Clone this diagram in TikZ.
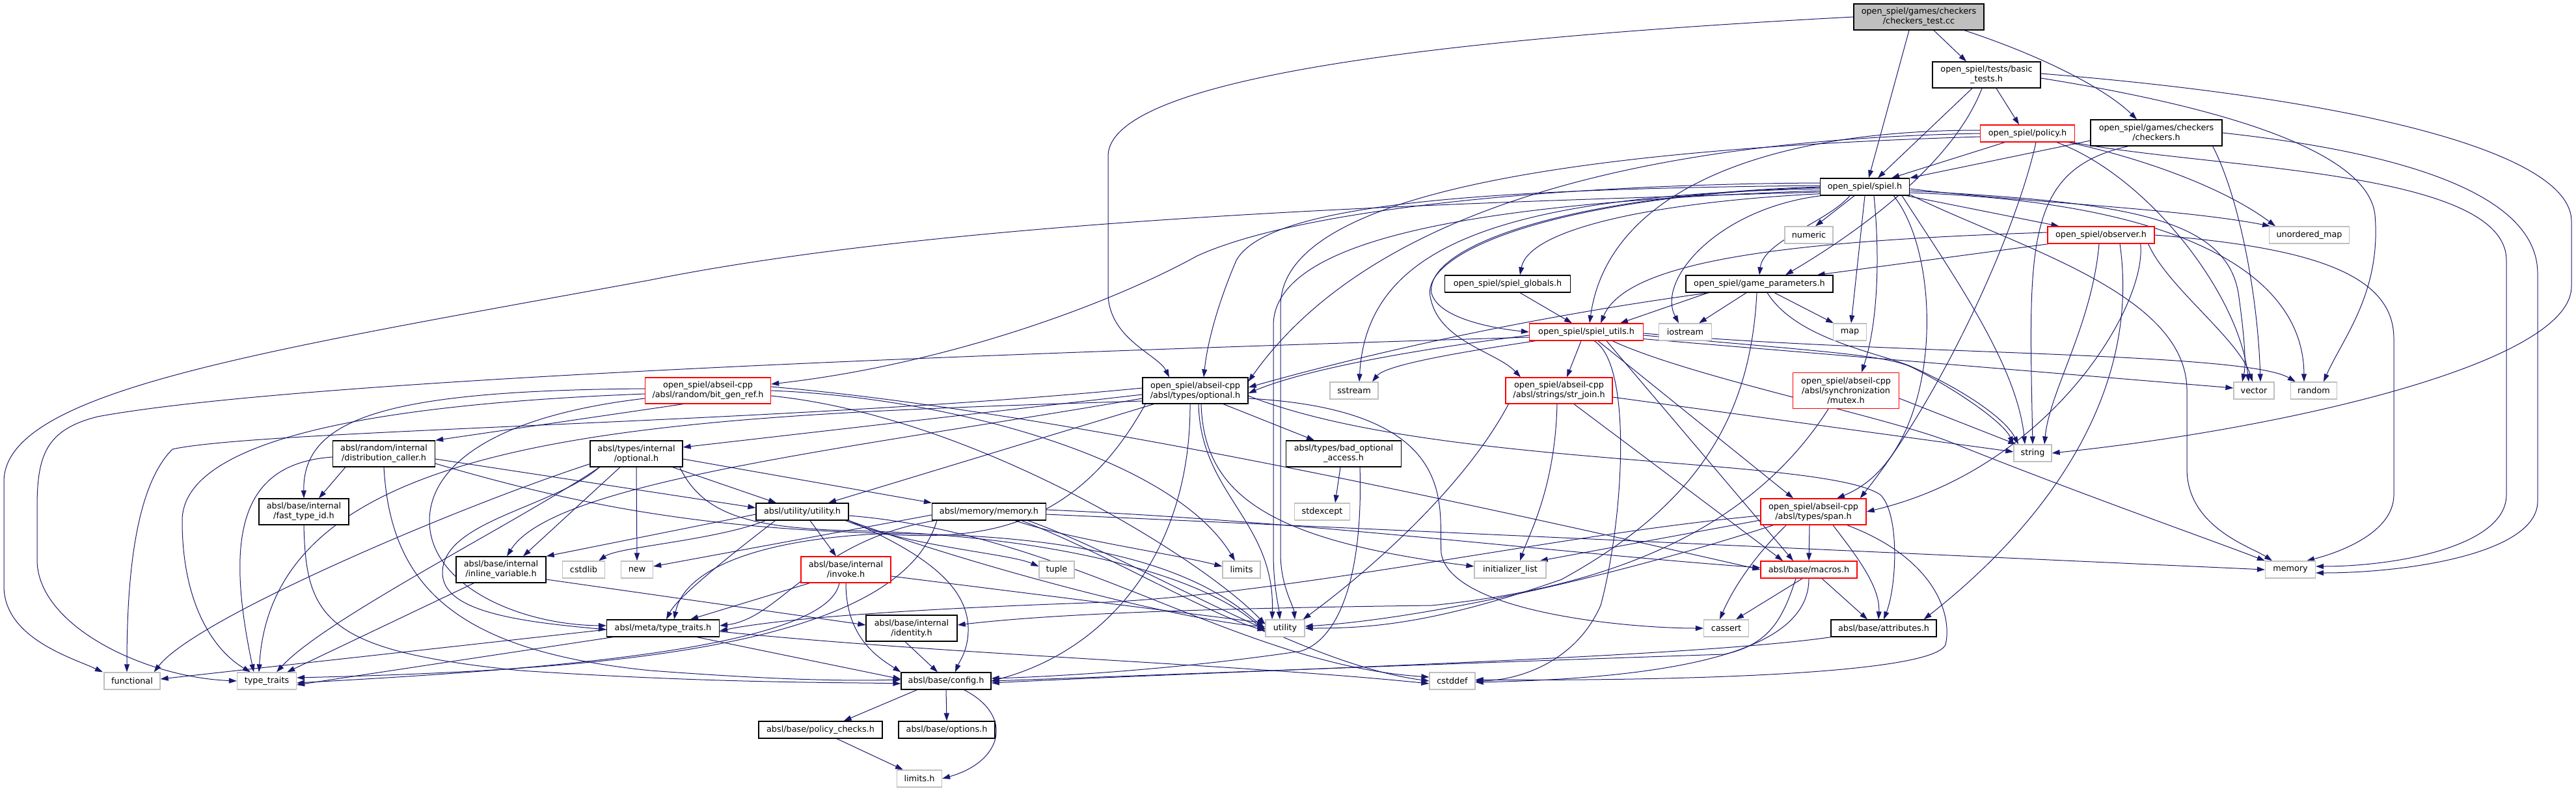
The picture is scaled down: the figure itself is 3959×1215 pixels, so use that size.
\documentclass[tikz,border=0pt]{standalone}
\usepackage{fontspec}
\setmainfont{DejaVu Sans}
\usetikzlibrary{arrows.meta,calc,backgrounds}
\definecolor{edgec}{HTML}{191970}
\definecolor{rootfill}{HTML}{BFBFBF}
\definecolor{sysc}{HTML}{BFBFBF}
\definecolor{redc}{HTML}{FF0000}
\begin{document}
\begin{tikzpicture}[x=1pt,y=-1pt,
  nd/.style={draw=black, line width=1.3pt, fill=white, inner sep=0pt, align=center,
     font=\fontsize{12.8}{15}\selectfont, minimum height=26pt},
  two/.style={minimum height=40pt},
  three/.style={minimum height=55pt},
  rd/.style={nd, draw=redc},
  sy/.style={nd, draw=sysc},
  e/.style={draw=edgec, line width=1pt, -{Triangle[length=12pt,width=8pt]}},
]
\useasboundingbox (0,0) rectangle (3959,1215);
% ---------------- nodes
\node[nd, two, fill=rootfill, minimum width=200pt] (root) at (2949,26) {open\_spiel/games/checkers\\/checkers\_test.cc};
\node[nd, two, minimum width=166pt] (basic) at (3053,115) {open\_spiel/tests/basic\\\_tests.h};
\node[rd, minimum width=145pt] (policy) at (3116,205) {open\_spiel/policy.h};
\node[nd, two, minimum width=202pt] (checkers) at (3314,204) {open\_spiel/games/checkers\\/checkers.h};
\node[nd, minimum width=137pt] (spiel) at (2866,287) {open\_spiel/spiel.h};
\node[sy, minimum width=74pt] (numeric) at (2780,361) {numeric};
\node[rd, minimum width=164pt] (observer) at (3229,361) {open\_spiel/observer.h};
\node[sy, minimum width=123pt] (umap) at (3549,361) {unordered\_map};
\node[nd, minimum width=193pt] (globals) at (2317,436) {open\_spiel/spiel\_globals.h};
\node[nd, minimum width=226pt] (gparams) at (2704,436) {open\_spiel/game\_parameters.h};
\node[rd, minimum width=175pt] (sutils) at (2438,510) {open\_spiel/spiel\_utils.h};
\node[sy, minimum width=81pt] (iostream) at (2590,510) {iostream};
\node[sy, minimum width=51pt] (map) at (2843,510) {map};
\node[nd, two, minimum width=162pt] (optA) at (1837,600) {open\_spiel/abseil-cpp\\/absl/types/optional.h};
\node[rd, two, minimum width=193pt] (bitgen) at (1088,600) {open\_spiel/abseil-cpp\\/absl/random/bit\_gen\_ref.h};
\node[sy, minimum width=74pt] (sstream) at (2081,600) {sstream};
\node[rd, two, minimum width=164pt] (strjoin) at (2396,600) {open\_spiel/abseil-cpp\\/absl/strings/str\_join.h};
\node[rd, three, minimum width=163pt] (mutex) at (2837,600) {open\_spiel/abseil-cpp\\/absl/synchronization\\/mutex.h};
\node[sy, minimum width=62pt] (vector) at (3464,600) {vector};
\node[sy, minimum width=71pt] (random) at (3556,600) {random};
\node[sy, minimum width=58pt] (string) at (3124,696) {string};
\node[nd, two, minimum width=157pt] (distcall) at (590,697) {absl/random/internal\\/distribution\_caller.h};
\node[nd, two, minimum width=142pt] (optI) at (978,697) {absl/types/internal\\/optional.h};
\node[nd, two, minimum width=177pt] (badopt) at (2065,697) {absl/types/bad\_optional\\\_access.h};
\node[rd, two, minimum width=162pt] (span) at (2787,786) {open\_spiel/abseil-cpp\\/absl/types/span.h};
\node[nd, two, minimum width=138pt] (fasttid) at (467,786) {absl/base/internal\\/fast\_type\_id.h};
\node[nd, minimum width=142pt] (utilh) at (1233,786) {absl/utility/utility.h};
\node[nd, minimum width=175pt] (memh) at (1520,786) {absl/memory/memory.h};
\node[sy, minimum width=85pt] (stdexcept) at (2032,786) {stdexcept};
\node[nd, two, minimum width=138pt] (inlvar) at (770,875) {absl/base/internal\\/inline\_variable.h};
\node[sy, minimum width=65pt] (cstdlib) at (897,875) {cstdlib};
\node[sy, minimum width=49pt] (new) at (979,875) {new};
\node[rd, two, minimum width=138pt] (invoke) at (1300,875) {absl/base/internal\\/invoke.h};
\node[sy, minimum width=54pt] (tuple) at (1624,875) {tuple};
\node[sy, minimum width=58pt] (limits) at (1908,875) {limits};
\node[sy, minimum width=110pt] (initl) at (2321,875) {initializer\_list};
\node[rd, minimum width=148pt] (macros) at (2780,875) {absl/base/macros.h};
\node[sy, minimum width=77pt] (memory) at (3520,875) {memory};
\node[nd, minimum width=173pt] (mtt) at (1019,965) {absl/meta/type\_traits.h};
\node[nd, two, minimum width=140pt] (identity) at (1401,965) {absl/base/internal\\/identity.h};
\node[sy, minimum width=60pt] (utility) at (1975,965) {utility};
\node[sy, minimum width=69pt] (cassert) at (2653,965) {cassert};
\node[nd, minimum width=162pt] (attributes) at (2895,965) {absl/base/attributes.h};
\node[sy, minimum width=86pt] (functional) at (203,1046) {functional};
\node[sy, minimum width=91pt] (typetraits) at (410,1046) {type\_traits};
\node[nd, minimum width=138pt] (config) at (1454,1046) {absl/base/config.h};
\node[sy, minimum width=70pt] (cstddef) at (2232,1046) {cstddef};
\node[nd, minimum width=190pt] (policychk) at (1261,1121) {absl/base/policy\_checks.h};
\node[nd, minimum width=148pt] (options) at (1455,1121) {absl/base/options.h};
\node[sy, minimum width=69pt] (limitsh) at (1413,1196) {limits.h};
% ---------------- edges
\begin{pgfonlayer}{background}
% root
\draw[e] ($(root.south)+(-15,0)$) -- ($(spiel.north)+(6,0)$);
\draw[e] ($(root.south)+(23,0)$) -- ($(basic.north)+(-31,0)$);
\draw[e] ($(root.south)+(70,0)$) .. controls (3150,90) and (3240,140) .. ($(checkers.north)+(-30,0)$);
\draw[e] (root.west) .. controls (2300,55) and (1703,110) .. (1703,240) -- (1703,450) .. controls (1703,520) and (1780,545) .. ($(optA.north)+(-40,0)$);
% basic
\draw[e] ($(basic.south)+(-22,0)$) -- ($(spiel.north)+(20,0)$);
\draw[e] ($(basic.south)+(15,0)$) -- ($(policy.north)+(-13,0)$);
\draw[e] ($(basic.south)+(-7,0)$) .. controls (3010,230) and (2900,330) .. ($(gparams.north)+(40,0)$);
\draw[e] ($(basic.east)+(0,-2)$) .. controls (3600,150) and (3952,230) .. (3952,340) -- (3952,440) .. controls (3952,560) and (3500,660) .. (string.east);
\draw[e] ($(basic.east)+(0,5)$) .. controls (3450,170) and (3640,240) .. (3650,330) .. controls (3660,450) and (3600,520) .. ($(random.north)+(15,0)$);
% policy
\draw[e] ($(policy.south)+(-35,0)$) -- ($(spiel.north east)+(-28,0)$);
\draw[e] (policy.west) .. controls (2500,215) and (2100,330) .. ($(optA.east)+(0,-14)$);
\draw[e] ($(policy.west)+(0,5)$) .. controls (2400,230) and (1968,300) .. (1968,470) -- (1968,850) .. controls (1968,900) and (1988,930) .. ($(utility.north)+(15,0)$);
\draw[e] ($(policy.west)+(0,-5)$) .. controls (2700,200) and (2470,300) .. ($(sutils.north)+(5,0)$);
\draw[e] ($(policy.south east)+(-10,0)$) .. controls (3300,245) and (3420,290) .. ($(umap.north)+(-52,0)$);
\draw[e] ($(policy.south east)+(-4,0)$) .. controls (3400,260) and (3852,260) .. (3852,400) -- (3852,760) .. controls (3852,840) and (3680,870) .. ($(memory.east)+(0,-5)$);
\draw[e] ($(policy.south)+(45,0)$) .. controls (3300,270) and (3440,450) .. ($(vector.north)+(-8,0)$);
\draw[e] ($(policy.south)+(13,0)$) .. controls (3100,350) and (2990,600) .. ($(span.north east)+(-10,0)$);
% checkers
\draw[e] ($(checkers.west)+(0,12)$) -- (spiel.north east);
\draw[e] ($(checkers.south)+(-43,0)$) .. controls (3110,260) and (3118,380) .. (string.north);
\draw[e] (checkers.east) .. controls (3700,235) and (3900,300) .. (3900,420) -- (3900,770) .. controls (3900,850) and (3700,880) .. ($(memory.east)+(0,5)$);
\draw[e] ($(checkers.south east)+(-15,0)$) .. controls (3440,300) and (3470,450) .. ($(vector.north)+(10,0)$);
% spiel
\draw[e] ($(spiel.south)+(-16,0)$) -- ($(numeric.north)+(10,0)$);
\draw[e] ($(spiel.south east)+(-5,0)$) -- ($(observer.north west)+(18,0)$);
\draw[e] ($(spiel.east)+(0,3)$) .. controls (3100,310) and (3350,320) .. ($(umap.north)+(-60,0)$);
\draw[e] ($(spiel.south west)+(0,-3)$) .. controls (2550,310) and (2350,350) .. ($(globals.north)+(19,0)$);
\draw[e] ($(spiel.south)+(-23,0)$) .. controls (2810,340) and (2710,370) .. (gparams.north);
\draw[e] (spiel.west) .. controls (2400,300) and (2190,380) .. (2200,450) .. controls (2210,490) and (2300,505) .. (sutils.west);
\draw[e] ($(spiel.south west)+(2,0)$) .. controls (2640,320) and (2545,430) .. ($(iostream.north)+(-10,0)$);
\draw[e] (spiel.south) -- ($(map.north)+(2,0)$);
\draw[e] ($(spiel.west)+(0,3)$) .. controls (2300,300) and (2100,380) .. ($(sstream.north)+(8,0)$);
\draw[e] ($(spiel.west)+(0,-6)$) .. controls (2400,283) and (2000,320) .. (1840,393) .. controls (1700,470) and (1450,560) .. ($(bitgen.east)+(0,-10)$);
\draw[e] ($(spiel.west)+(0,-2)$) .. controls (2300,290) and (1950,310) .. (1900,400) .. controls (1870,470) and (1855,530) .. ($(optA.north)+(13,0)$);
\draw[e] ($(spiel.west)+(0,6)$) .. controls (2300,310) and (1957,360) .. (1957,500) -- (1957,850) .. controls (1957,900) and (1965,930) .. ($(utility.north)+(-8,0)$);
\draw[e] ($(spiel.west)+(0,1)$) .. controls (2400,300) and (2185,385) .. (2198,455) .. controls (2210,525) and (2300,540) .. ($(strjoin.north)+(-59,0)$);
\draw[e] ($(spiel.south)+(14,0)$) .. controls (2890,400) and (2885,500) .. ($(mutex.north)+(24,0)$);
\draw[e] ($(spiel.south east)+(-25,0)$) .. controls (2990,400) and (2985,700) .. ($(span.north)+(36,0)$);
\draw[e] ($(spiel.east)+(0,6)$) .. controls (3250,310) and (3420,330) .. (3440,450) .. controls (3450,520) and (3452,560) .. ($(vector.north)+(-18,0)$);
\draw[e] ($(spiel.east)+(0,9)$) .. controls (3350,310) and (3540,420) .. ($(random.north)+(-15,0)$);
\draw[e] ($(spiel.south east)+(-12,0)$) .. controls (3000,420) and (3100,560) .. ($(string.north)+(-12,0)$);
\draw[e] ($(spiel.east)+(0,12)$) .. controls (3100,380) and (3361,450) .. (3361,600) -- (3361,720) .. controls (3361,810) and (3460,840) .. ($(memory.north)+(-28,0)$);
\draw[e] ($(spiel.west)+(0,8)$) .. controls (2300,310) and (1500,330) .. (1000,430) .. controls (400,540) and (6,600) .. (6,740) -- (6,900) .. controls (6,980) and (110,1010) .. ($(functional.north)+(-45,0)$);
% observer
\draw[e] ($(observer.south west)+(2,0)$) -- ($(gparams.north east)+(-25,0)$);
\draw[e] ($(observer.west)+(0,-4)$) .. controls (2750,370) and (2500,400) .. ($(sutils.north)+(22,0)$);
\draw[e] ($(observer.south)+(-3,0)$) .. controls (3215,500) and (3150,600) .. ($(string.north)+(18,0)$);
\draw[e] ($(observer.south east)+(-22,0)$) .. controls (3300,470) and (3150,720) .. (span.east);
\draw[e] ($(observer.south east)+(-10,0)$) .. controls (3330,440) and (3440,520) .. ($(vector.north)+(-2,0)$);
\draw[e] ($(observer.south)+(29,0)$) .. controls (3290,600) and (3150,800) .. ($(attributes.north east)+(-20,0)$);
\draw[e] (observer.east) .. controls (3550,380) and (3679,420) .. (3679,520) -- (3679,760) .. controls (3679,820) and (3590,850) .. ($(memory.north)+(25,0)$);
% game parameters
\draw[e] ($(gparams.south west)+(35,0)$) -- ($(sutils.north)+(52,0)$);
\draw[e] ($(gparams.south west)+(37,0)$) .. controls (2400,480) and (2150,530) .. ($(optA.east)+(0,-5)$);
\draw[e] ($(gparams.south)+(-20,0)$) -- ($(iostream.north)+(21,0)$);
\draw[e] ($(gparams.south)+(23,0)$) -- ($(map.north)+(-25,0)$);
\draw[e] ($(gparams.south)+(12,0)$) .. controls (2760,520) and (2880,540) .. (2935,562) .. controls (3010,595) and (3080,640) .. ($(string.north)+(-22,0)$);
\draw[e] ($(gparams.south)+(-4,0)$) .. controls (2690,650) and (2600,780) .. (2400,890) .. controls (2200,960) and (2100,965) .. (utility.east);
% globals
\draw[e] ($(globals.south)+(19,0)$) -- ($(sutils.north)+(-22,0)$);
% spiel_utils
\draw[e] ($(sutils.west)+(0,5)$) .. controls (2150,540) and (2000,570) .. ($(optA.east)+(0,4)$);
\draw[e] ($(sutils.south west)+(10,0)$) .. controls (2250,540) and (2130,560) .. ($(sstream.north)+(28,0)$);
\draw[e] ($(sutils.south)+(-8,0)$) -- ($(strjoin.north)+(12,0)$);
\draw[e] ($(sutils.south)+(18,0)$) -- ($(span.north)+(-31,0)$);
\draw[e] ($(sutils.south)+(31,0)$) -- ($(macros.north)+(-24,0)$);
\draw[e] ($(sutils.south east)+(0,-3)$) -- ($(vector.west)+(0,-4)$);
\draw[e] ($(sutils.east)+(0,2)$) .. controls (2900,545) and (3450,540) .. ($(random.north west)+(8,0)$);
\draw[e] ($(sutils.east)+(0,5)$) .. controls (2800,540) and (2900,545) .. (2940,565) .. controls (3010,600) and (3080,650) .. (string.north west);
\draw[e] ($(sutils.south)+(40,0)$) .. controls (2600,580) and (2900,640) .. (3000,680) .. controls (3200,760) and (3400,830) .. (memory.north west);
\draw[e] ($(sutils.west)+(0,8)$) .. controls (1800,535) and (500,575) .. (150,640) .. controls (70,660) and (57,700) .. (57,780) -- (57,860) .. controls (57,960) and (220,1040) .. (typetraits.west);
\draw[e] ($(sutils.south)+(12,0)$) .. controls (2510,560) and (2495,800) .. (2460,930) .. controls (2420,1020) and (2330,1045) .. (cstddef.east);
% bit_gen_ref
\draw[e] ($(bitgen.south)+(-38,0)$) -- (distcall.north east);
\draw[e] ($(bitgen.west)+(0,-3)$) .. controls (600,600) and (465,640) .. (fasttid.north);
\draw[e] ($(bitgen.west)+(0,5)$) .. controls (600,620) and (280,670) .. (280,800) .. controls (280,930) and (330,1000) .. ($(typetraits.north)+(-25,0)$);
\draw[e] ($(bitgen.west)+(0,12)$) .. controls (750,640) and (660,720) .. (660,800) .. controls (660,900) and (800,960) .. ($(mtt.west)+(0,-4)$);
\draw[e] (bitgen.east) .. controls (1450,610) and (1800,700) .. ($(limits.north)+(-10,0)$);
\draw[e] ($(bitgen.east)+(0,8)$) .. controls (1500,640) and (1850,860) .. ($(utility.west)+(0,-6)$);
\draw[e] ($(bitgen.east)+(0,-6)$) .. controls (1600,630) and (2200,760) .. (macros.west);
% optional.h (abseil-cpp)
\draw[e] ($(optA.south)+(43,0)$) -- ($(badopt.north)+(-45,0)$);
\draw[e] ($(optA.west)+(0,6)$) -- ($(optI.east)+(0,-10)$);
\draw[e] ($(optA.south west)+(18,0)$) -- ($(utilh.north)+(40,0)$);
\draw[e] ($(optA.west)+(0,12)$) .. controls (1300,690) and (850,740) .. ($(inlvar.north)+(9,0)$);
\draw[e] ($(optA.south west)+(5,0)$) .. controls (1650,820) and (1500,830) .. (1350,820) .. controls (1150,830) and (1050,880) .. ($(mtt.north)+(17,0)$);
\draw[e] ($(optA.west)+(0,-4)$) .. controls (1200,650) and (400,660) .. (265,690) .. controls (205,750) and (195,900) .. ($(functional.north)+(-8,0)$);
\draw[e] ($(optA.west)+(0,16)$) .. controls (1000,640) and (420,660) .. ($(typetraits.north)+(-12,0)$);
\draw[e] ($(optA.south)+(-8,0)$) .. controls (1830,850) and (1700,1000) .. (config.east);
\draw[e] ($(optA.south)+(5,0)$) .. controls (1845,760) and (1960,800) .. ($(utility.north)+(-20,0)$);
\draw[e] ($(optA.south)+(9,0)$) .. controls (1850,760) and (1950,830) .. ($(initl.west)+(0,-5)$);
\draw[e] ($(optA.east)+(0,12)$) .. controls (2250,630) and (2210,780) .. (2215,850) .. controls (2230,940) and (2500,965) .. (cassert.west);
\draw[e] ($(optA.east)+(0,8)$) .. controls (2200,720) and (2800,700) .. (2890,760) .. controls (2920,790) and (2915,900) .. (attributes.north);
% distribution_caller
\draw[e] ($(distcall.south west)+(20,0)$) -- ($(fasttid.north)+(23,0)$);
\draw[e] ($(distcall.east)+(0,8)$) -- ($(utilh.west)+(0,-6)$);
\draw[e] (distcall.south) .. controls (600,900) and (700,1000) .. (1000,1030) .. controls (1200,1045) and (1300,1046) .. ($(config.west)+(0,-2)$);
\draw[e] ($(distcall.east)+(0,15)$) .. controls (900,780) and (1100,815) .. (1400,820) .. controls (1700,825) and (1850,880) .. ($(utility.west)+(0,2)$);
\draw[e] ($(distcall.west)+(0,5)$) .. controls (370,712) and (345,820) .. ($(typetraits.north)+(-20,0)$);
% internal optional
\draw[e] (optI.south) -- (new.north);
\draw[e] ($(optI.south)+(-25,0)$) -- ($(inlvar.north)+(34,0)$);
\draw[e] ($(optI.south east)+(-16,0)$) -- ($(utilh.north)+(-40,0)$);
\draw[e] ($(optI.east)+(0,8)$) -- (memh.north west);
\draw[e] ($(optI.south west)+(0,-5)$) .. controls (700,780) and (300,950) .. ($(functional.north east)+(-10,0)$);
\draw[e] ($(optI.south west)+(15,0)$) .. controls (800,800) and (500,950) .. ($(typetraits.north)+(15,0)$);
\draw[e] ($(optI.south west)+(15,0)$) .. controls (850,780) and (680,800) .. (680,880) .. controls (680,940) and (800,955) .. ($(mtt.west)+(0,2)$);
\draw[e] ($(optI.south east)+(-5,0)$) .. controls (1080,790) and (1150,810) .. (1300,815) .. controls (1600,820) and (1850,880) .. ($(utility.west)+(0,6)$);
% bad_optional_access
\draw[e] ($(badopt.south)+(-5,0)$) -- ($(stdexcept.north)+(20,0)$);
\draw[e] ($(badopt.south)+(25,0)$) .. controls (2095,880) and (2060,980) .. (2000,1000) .. controls (1800,1030) and (1600,1040) .. ($(config.east)+(0,-4)$);
% utility.h
\draw[e] ($(utilh.south west)+(15,0)$) .. controls (1100,830) and (950,840) .. ($(cstdlib.north east)+(-10,0)$);
\draw[e] ($(utilh.south)+(12,0)$) -- ($(invoke.north)+(-15,0)$);
\draw[e] ($(utilh.west)+(0,4)$) -- (inlvar.north east);
\draw[e] ($(utilh.south west)+(30,0)$) .. controls (1100,870) and (1040,920) .. ($(mtt.north)+(5,0)$);
\draw[e] ($(utilh.south east)+(-5,0)$) .. controls (1400,840) and (1550,850) .. ($(tuple.west)+(0,-5)$);
\draw[e] (utilh.south east) .. controls (1500,870) and (1800,950) .. ($(utility.west)+(0,-2)$);
\draw[e] (utilh.south east) .. controls (1420,850) and (1490,900) .. (1488,970) .. controls (1487,1000) and (1475,1015) .. ($(config.north)+(14,0)$);
\draw[e] ($(utilh.east)+(0,6)$) .. controls (1650,820) and (1900,1020) .. ($(cstddef.west)+(0,-6)$);
% memory.h
\draw[e] ($(memh.west)+(0,5)$) -- ($(new.east)+(0,-5)$);
\draw[e] ($(memh.south)+(40,0)$) .. controls (1650,830) and (1800,850) .. ($(limits.west)+(0,-5)$);
\draw[e] ($(memh.east)+(0,4)$) -- (memory.west);
\draw[e] ($(memh.east)+(0,-3)$) .. controls (2000,800) and (2400,850) .. ($(macros.west)+(0,-3)$);
\draw[e] ($(memh.south)+(50,0)$) .. controls (1700,850) and (1850,940) .. ($(utility.west)+(0,4)$);
\draw[e] ($(memh.south)+(60,0)$) .. controls (1750,860) and (2000,1020) .. (cstddef.west);
\draw[e] ($(memh.south west)+(5,0)$) .. controls (1250,830) and (1200,950) .. ($(mtt.east)+(0,-4)$);
\draw[e] ($(memh.south west)+(8,0)$) .. controls (1380,1000) and (900,1030) .. ($(typetraits.east)+(0,-5)$);
% inline_variable
\draw[e] ($(inlvar.south west)+(28,0)$) -- ($(typetraits.north east)+(-15,0)$);
\draw[e] ($(inlvar.east)+(0,15)$) -- ($(identity.west)+(0,-5)$);
% invoke
\draw[e] ($(invoke.south west)+(14,0)$) -- ($(mtt.north)+(42,0)$);
\draw[e] ($(invoke.south)+(-10,0)$) .. controls (1270,1000) and (800,1030) .. ($(typetraits.east)+(0,3)$);
\draw[e] (invoke.south) .. controls (1300,980) and (1350,1010) .. (config.north west);
\draw[e] ($(invoke.east)+(0,10)$) -- ($(utility.west)+(0,-8)$);
% meta/type_traits
\draw[e] ($(mtt.west)+(0,2)$) -- ($(functional.east)+(0,-3)$);
\draw[e] ($(mtt.south west)+(10,0)$) -- ($(typetraits.east)+(0,6)$);
\draw[e] ($(mtt.south east)+(-35,0)$) -- ($(config.west)+(0,-3)$);
\draw[e] ($(mtt.east)+(0,5)$) .. controls (1450,1005) and (1900,1020) .. ($(cstddef.west)+(0,4)$);
% identity
\draw[e] ($(identity.south)+(-10,0)$) -- ($(config.north)+(-13,0)$);
% fast_type_id
\draw[e] (fasttid.south) .. controls (470,950) and (500,1000) .. (800,1030) .. controls (1100,1050) and (1300,1048) .. ($(config.west)+(0,4)$);
% macros
\draw[e] ($(macros.south)+(-10,0)$) -- ($(cassert.north)+(15,0)$);
\draw[e] ($(macros.south)+(20,0)$) -- ($(attributes.north)+(-25,0)$);
\draw[e] ($(macros.south)+(-20,0)$) .. controls (2740,950) and (2720,990) .. (2650,1005) .. controls (2200,1020) and (1700,1040) .. (config.east);
\draw[e] (macros.south) .. controls (2780,980) and (2650,1040) .. ($(cstddef.east)+(0,2)$);
% attributes
\draw[e] (attributes.south west) .. controls (2600,1010) and (1900,1030) .. ($(config.east)+(0,3)$);
% span
\draw[e] ($(span.south west)+(40,0)$) .. controls (2700,850) and (2665,900) .. ($(cassert.north)+(-10,0)$);
\draw[e] ($(span.south east)+(-30,0)$) .. controls (2980,860) and (3000,950) .. (2990,990) .. controls (2970,1040) and (2500,1046) .. ($(cstddef.east)+(0,-2)$);
\draw[e] ($(span.west)+(0,13)$) -- ($(initl.north east)+(-10,0)$);
\draw[e] ($(span.south west)+(20,0)$) .. controls (2500,880) and (2200,950) .. ($(utility.east)+(0,-3)$);
\draw[e] ($(span.south)+(-6,0)$) -- (macros.north);
\draw[e] ($(span.south)+(30,0)$) .. controls (2850,850) and (2890,900) .. ($(attributes.north)+(-8,0)$);
\draw[e] ($(span.west)+(0,6)$) .. controls (2400,820) and (2000,910) .. (1700,925) .. controls (1400,935) and (1200,950) .. ($(mtt.east)+(0,4)$);
% str_join
\draw[e] ($(strjoin.east)+(0,10)$) -- ($(string.west)+(0,-2)$);
\draw[e] ($(strjoin.south)+(-3,0)$) .. controls (2390,750) and (2350,820) .. ($(initl.north)+(15,0)$);
\draw[e] ($(strjoin.south)+(23,0)$) -- ($(macros.north)+(-40,0)$);
\draw[e] ($(strjoin.south west)+(5,0)$) .. controls (2250,750) and (2100,880) .. ($(utility.north east)+(-3,0)$);
% mutex
\draw[e] ($(mutex.east)+(0,12)$) -- ($(string.north west)+(4,0)$);
\draw[e] ($(mutex.south)+(-27,0)$) .. controls (2700,800) and (2500,900) .. (2200,930) .. controls (1800,935) and (1600,945) .. ($(identity.east)+(0,-5)$);
% config
\draw[e] ($(config.south west)+(25,0)$) -- ($(policychk.north east)+(-60,0)$);
\draw[e] (config.south) -- (options.north);
\draw[e] ($(config.south east)+(-42,0)$) .. controls (1560,1100) and (1540,1170) .. (limitsh.east);
% policy_checks
\draw[e] ($(policychk.south)+(25,0)$) -- ($(limitsh.north)+(-25,0)$);
\end{pgfonlayer}
\end{tikzpicture}
\end{document}
